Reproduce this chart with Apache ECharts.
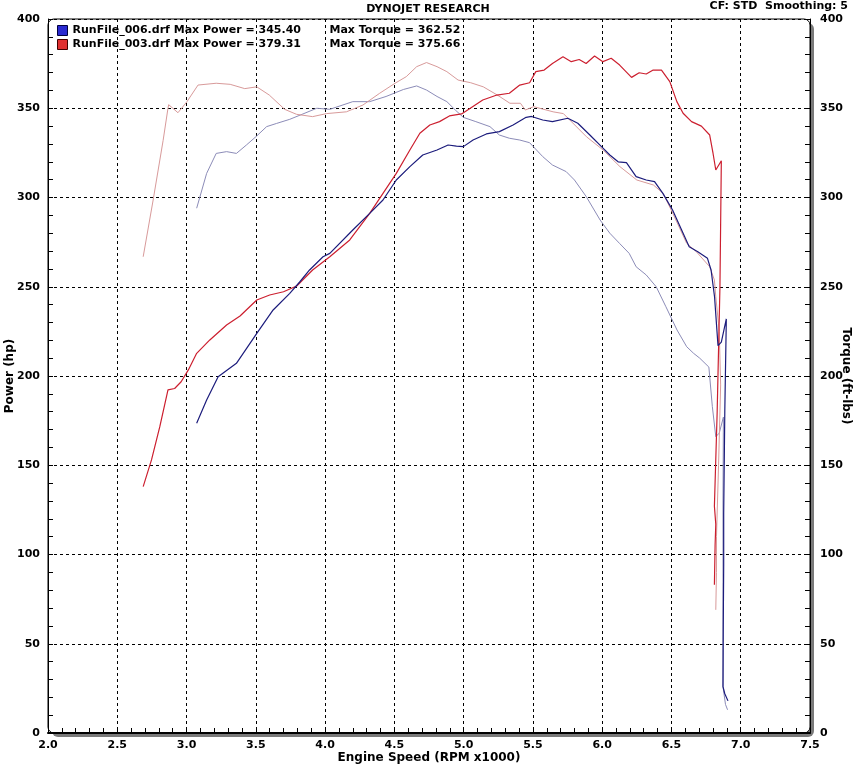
<!DOCTYPE html>
<html>
<head>
<meta charset="utf-8">
<script src="https://cdn.jsdelivr.net/npm/echarts@6/dist/echarts.min.js"></script>
<style>
html,body{margin:0;padding:0;background:#fff;}
#c{width:857px;height:766px;}
</style>
</head>
<body>
<div id="c"></div>
<script>
// ---- data (RPM x1000, value) ----
const runNames = ['RunFile_006.drf', 'RunFile_003.drf'];
const maxPower = [345.40, 379.31];
const maxTorque = [362.52, 375.66];
const xTicks = ['2.0','2.5','3.0','3.5','4.0','4.5','5.0','5.5','6.0','6.5','7.0','7.5'];
const titleText = 'DYNOJET RESEARCH';
const subText = 'CF: STD  Smoothing: 5';

const bluePower = [
[3.073,173.5],[3.145,186.5],[3.228,199.6],[3.36,207.1],[3.507,223.9],[3.625,237],[3.745,246.3],[3.818,252.8],[3.888,259.4],[3.985,266.8],
[4.034,268.7],[4.2,281.8],[4.322,291.1],[4.418,298.6],[4.514,309.8],[4.612,317.3],[4.705,323.8],[4.808,326.6],[4.888,329.4],[4.948,328.8],
[4.998,328.5],[5.068,332.2],[5.164,335.6],[5.258,336.9],[5.357,340.6],[5.451,344.9],[5.49,345.4],[5.571,343.4],[5.641,342.5],[5.752,344.4],
[5.824,341.6],[5.911,335],[5.995,328.5],[6.055,323.8],[6.115,320],[6.175,319.5],[6.245,311.7],[6.318,309.8],[6.378,308.9],[6.438,302.3],
[6.508,293],[6.584,280],[6.628,272.4],[6.69,269.6],[6.76,265.9],[6.786,259.4],[6.811,244.4],[6.836,217],[6.86,219],[6.896,232],
[6.885,180],[6.877,123],[6.877,94],[6.874,60],[6.872,26],[6.885,22],[6.908,18]
];
const blueTorque = [
[3.073,294],[3.145,313.5],[3.214,324.7],[3.289,325.7],[3.36,324.7],[3.432,329.4],[3.507,334.5],[3.578,339.7],[3.65,341.5],[3.745,343.8],
[3.84,346.8],[3.94,350],[4.034,349.4],[4.2,353.7],[4.322,353.7],[4.44,356.6],[4.565,360.5],[4.661,362.5],[4.732,360.2],[4.808,356.6],
[4.879,353.7],[4.94,349],[4.998,344.9],[5.088,342.5],[5.19,339.7],[5.258,335],[5.33,333.2],[5.405,332.2],[5.476,330.7],[5.571,322.9],
[5.641,318.2],[5.74,314.5],[5.8,309.8],[5.885,300.5],[5.985,287.4],[6.055,280],[6.125,274.3],[6.195,268.7],[6.245,261.2],[6.318,256.6],
[6.39,250],[6.46,238.8],[6.54,225.8],[6.61,216.4],[6.66,212.7],[6.704,210],[6.77,205],[6.795,183],[6.82,166],[6.845,168],
[6.875,177],[6.872,130],[6.872,70],[6.872,26],[6.89,16],[6.905,13]
];
const redPower = [
[2.687,138],[2.747,153],[2.807,171.6],[2.866,192.2],[2.914,193],[2.961,196.8],[3.013,203.4],[3.073,212.7],[3.168,220.2],[3.289,228.6],
[3.386,233.6],[3.507,242.6],[3.60,245.4],[3.70,247.2],[3.795,250.4],[3.91,259.4],[4.034,266.8],[4.178,276.2],[4.322,291.1],[4.418,302.3],
[4.514,313.5],[4.612,326.6],[4.684,336],[4.756,340.6],[4.826,342.5],[4.897,345.7],[4.985,346.8],[5.048,350],[5.138,354.6],[5.24,357.4],
[5.33,358.4],[5.405,363],[5.476,364.3],[5.521,370.5],[5.581,371.4],[5.641,375.1],[5.717,378.9],[5.777,376.1],[5.834,377.3],[5.884,375.1],
[5.945,379.3],[6.005,376.1],[6.065,378],[6.126,374.2],[6.212,367.3],[6.267,369.9],[6.318,369.2],[6.368,371.4],[6.428,371.4],[6.488,364.9],
[6.539,353.7],[6.584,347.2],[6.645,342.5],[6.716,340],[6.776,335],[6.80,324.8],[6.82,315.4],[6.86,320.6],[6.85,250],[6.83,180],
[6.81,127],[6.82,117],[6.815,105],[6.81,83]
];
const redTorque = [
[2.687,266.8],[2.759,298.6],[2.831,332],[2.866,350],[2.871,352],[2.938,347.5],[3.003,353.7],[3.083,363],[3.214,364],[3.315,363.4],
[3.42,361],[3.507,362],[3.597,357.4],[3.708,349.4],[3.794,346.6],[3.91,345.3],[4.01,347],[4.154,348],[4.273,351.8],[4.394,358.4],
[4.505,364],[4.586,367.7],[4.661,373.3],[4.732,375.6],[4.808,373.3],[4.879,370.5],[4.96,365.8],[5.051,364.3],[5.142,362],[5.243,357.4],
[5.334,352.8],[5.41,352.8],[5.445,349],[5.505,350.9],[5.646,348],[5.72,347],[5.887,334],[6.007,326.6],[6.128,317.3],[6.25,309.8],
[6.37,307],[6.44,302.3],[6.51,291.1],[6.61,274.3],[6.68,269.6],[6.776,261.2],[6.81,253.8],[6.82,244.4],[6.845,225],[6.855,195],
[6.84,150],[6.825,110],[6.825,90],[6.82,69]
];

const FONT = "'DejaVu Sans', Verdana, sans-serif";
const colors = {bp:'#1c1c7c', bt:'#8c8cb8', rp:'#cc1f2f', rt:'#d89a9a'};

const chart = echarts.init(document.getElementById('c'), null, {renderer:'canvas'});

const G = {left:48, top:19, right:47, bottom:33};
const W = 857 - G.left - G.right, H = 766 - G.top - G.bottom;

function legendFmt(name){
  const i = runNames.indexOf(name);
  return '{a|' + name + ' Max Power = ' + maxPower[i].toFixed(2) + '}{b|Max Torque = ' + maxTorque[i].toFixed(2) + '}';
}
const lblStyle = {fontFamily:FONT, fontWeight:'bold', fontSize:11, color:'#000'};
const nameStyle = {fontFamily:FONT, fontWeight:'bold', fontSize:12, color:'#000'};

chart.setOption({
  animation:false,
  backgroundColor:'#fff',
  graphic:[
    {type:'rect', z:-20, silent:true, shape:{x:G.left+4, y:G.top+4, width:W, height:H, r:6}, style:{fill:'#7a7a7a'}},
    {type:'rect', z:-19, silent:true, shape:{x:G.left, y:G.top, width:W, height:H, r:6}, style:{fill:'#fff', stroke:'#000', lineWidth:1}},
    {type:'text', silent:true, x:428, y:9, style:{text:titleText, font:"bold 11px 'DejaVu Sans'", fill:'#000', align:'center', verticalAlign:'middle'}},
    {type:'text', silent:true, x:848, y:6, style:{text:subText, font:"bold 11px 'DejaVu Sans'", fill:'#000', align:'right', verticalAlign:'middle'}}
  ],
  legend:{
    data:[
      {name:runNames[0], itemStyle:{color:'#2a2ad0', borderColor:'#000040', borderWidth:1}},
      {name:runNames[1], itemStyle:{color:'#e03030', borderColor:'#400000', borderWidth:1}}
    ],
    orient:'vertical', left:57, top:25, padding:0, itemWidth:10, itemHeight:10, itemGap:3, icon:'rect',
    selectedMode:false,
    formatter:legendFmt,
    textStyle:{fontFamily:FONT, fontWeight:'bold', fontSize:11, color:'#000',
      rich:{a:{fontFamily:FONT, fontWeight:'bold', fontSize:11, color:'#000', width:257},
            b:{fontFamily:FONT, fontWeight:'bold', fontSize:11, color:'#000'}}}
  },
  grid:{left:G.left, right:G.right, top:G.top, bottom:G.bottom, containLabel:false, outerBoundsMode:'none'},
  xAxis:{
    type:'value', min:2, max:7.5, interval:0.5,
    name:'Engine Speed (RPM x1000)', nameLocation:'middle', nameGap:19, nameMoveOverlap:false,
    nameTextStyle:nameStyle,
    axisLine:{show:true, lineStyle:{color:'#000', width:2}},
    axisTick:{show:true, inside:true, length:5, lineStyle:{color:'#000'}},
    minorTick:{show:true, splitNumber:5, length:5, lineStyle:{color:'#000'}},
    axisLabel:Object.assign({margin:7, formatter:function(v){ const i = Math.round((v-2)/0.5); return xTicks[i] || ''; }}, lblStyle),
    splitLine:{show:true, lineStyle:{color:'#000', type:[3,3], width:1}}
  },
  yAxis:[
    {
      type:'value', min:0, max:400, interval:50, position:'left',
      name:'Power (hp)', nameLocation:'middle', nameGap:32, nameRotate:90, nameMoveOverlap:false,
      nameTextStyle:nameStyle,
      axisLine:{show:true, lineStyle:{color:'#000', width:1}},
      axisTick:{show:true, inside:true, length:5, lineStyle:{color:'#000'}},
      minorTick:{show:true, splitNumber:5, length:5, lineStyle:{color:'#000'}},
      axisLabel:Object.assign({margin:8}, lblStyle),
      splitLine:{show:true, lineStyle:{color:'#000', type:[3,3], width:1}}
    },
    {
      type:'value', min:0, max:400, interval:50, position:'right',
      name:'Torque (ft-lbs)', nameLocation:'middle', nameGap:30, nameRotate:-90, nameMoveOverlap:false,
      nameTextStyle:nameStyle,
      axisLine:{show:true, lineStyle:{color:'#000', width:1}},
      axisTick:{show:true, inside:true, length:5, lineStyle:{color:'#000'}},
      minorTick:{show:true, splitNumber:5, length:5, lineStyle:{color:'#000'}},
      axisLabel:Object.assign({margin:10}, lblStyle),
      splitLine:{show:false}
    }
  ],
  series:[
    {name:'RunFile_006.drf Torque', type:'line', yAxisIndex:1, data:blueTorque, symbol:'none', lineStyle:{color:colors.bt, width:1}, itemStyle:{color:colors.bt}, z:2},
    {name:'RunFile_003.drf Torque', type:'line', yAxisIndex:1, data:redTorque, symbol:'none', lineStyle:{color:colors.rt, width:1}, itemStyle:{color:colors.rt}, z:2},
    {name:runNames[1], type:'line', yAxisIndex:0, data:redPower, symbol:'none', lineStyle:{color:colors.rp, width:1.2}, itemStyle:{color:colors.rp}, z:3},
    {name:runNames[0], type:'line', yAxisIndex:0, data:bluePower, symbol:'none', lineStyle:{color:colors.bp, width:1.2}, itemStyle:{color:colors.bp}, z:4}
  ]
});
</script>
</body>
</html>
